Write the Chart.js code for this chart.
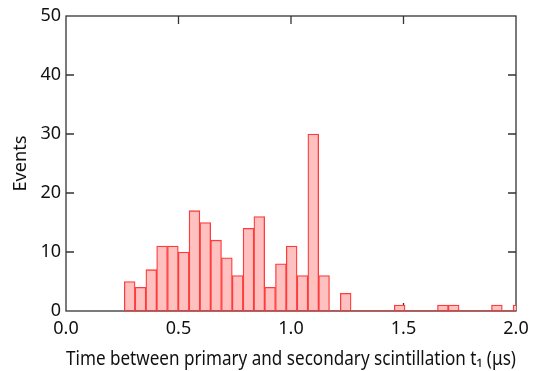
<!DOCTYPE html>
<html lang="en">
<head>
    <meta charset="UTF-8">
    <title>t1 histogram</title>
    <script src="https://cdn.jsdelivr.net/npm/chart.js"></script>
    <style>
        html, body { margin: 0; padding: 0; background: #fff; }
        .chart-box { width: 538px; height: 371px; position: relative; }
    </style>
</head>
<body>
    <div class="chart-box">
        <canvas id="histChart"></canvas>
    </div>

    <script>
        // bin centres (µs), bins are ~0.048 µs wide
        const binCenters = [0.283, 0.331, 0.379, 0.427, 0.475, 0.523, 0.571, 0.619, 0.667, 0.715,
                            0.763, 0.811, 0.859, 0.907, 0.955, 1.003, 1.051, 1.099, 1.147, 1.195,
                            1.243, 1.291, 1.339, 1.387, 1.435, 1.483, 1.531, 1.579, 1.627, 1.675,
                            1.723, 1.771, 1.819, 1.867, 1.915, 1.963, 2.011];
        const events = [5, 4, 7, 11, 11, 10, 17, 15, 12, 9,
                        6, 14, 16, 4, 8, 11, 6, 30, 6, 0,
                        3, 0, 0, 0, 0, 1, 0, 0, 0, 1,
                        1, 0, 0, 0, 1, 0, 1];
        const baseLine = [0.259, 2.0];   // red baseline under the histogram
        const xTicks = [0.0, 0.5, 1.0, 1.5, 2.0];
        const yTicks = [0, 10, 20, 30, 40, 50];

        const font = "'Noto Sans', 'Open Sans', sans-serif";

        // frame box with inward ticks, like the original plot
        const framePlugin = {
            id: 'frame',
            beforeDatasetsDraw(chart) {
                const { ctx, chartArea: a, scales } = chart;
                ctx.save();
                ctx.strokeStyle = '#333';
                ctx.lineWidth = 1.3;
                ctx.strokeRect(a.left, a.top, a.right - a.left, a.bottom - a.top);
                ctx.beginPath();
                yTicks.slice(1, -1).forEach(v => {
                    const y = scales.y.getPixelForValue(v);
                    ctx.moveTo(a.left, y); ctx.lineTo(a.left + 8, y);
                    ctx.moveTo(a.right, y); ctx.lineTo(a.right - 8, y);
                });
                xTicks.slice(1, -1).forEach(v => {
                    const x = scales.x.getPixelForValue(v);
                    ctx.moveTo(x, a.top); ctx.lineTo(x, a.top + 8);
                    ctx.moveTo(x, a.bottom); ctx.lineTo(x, a.bottom - 8);
                });
                ctx.stroke();
                ctx.restore();
            }
        };

        new Chart(document.getElementById('histChart'), {
            type: 'bar',
            data: {
                datasets: [
                    {
                        type: 'line',
                        data: baseLine.map(x => ({ x: x, y: 0 })),
                        borderColor: '#ff3333',
                        borderWidth: 1.5,
                        pointRadius: 0
                    },
                    {
                        data: binCenters.map((x, i) => ({ x: x, y: events[i] })),
                        backgroundColor: '#ffc0c0',
                        borderColor: '#ff3b3b',
                        borderWidth: 1.3,
                        borderSkipped: false,
                        barPercentage: 1,
                        categoryPercentage: 1
                    }
                ]
            },
            options: {
                responsive: true,
                maintainAspectRatio: false,
                animation: false,
                layout: { padding: { left: 0, right: 22, top: 16, bottom: 0 } },
                plugins: {
                    legend: { display: false },
                    tooltip: { enabled: false }
                },
                scales: {
                    x: {
                        type: 'linear',
                        min: 0,
                        max: 2,
                        offset: false,
                        grid: { display: false, drawTicks: false, offset: false },
                        border: { display: false },
                        afterFit: s => { s.height = 60; },
                        afterBuildTicks: s => { s.ticks = xTicks.map(v => ({ value: v })); },
                        ticks: {
                            padding: 7,
                            color: '#111',
                            font: { family: font, size: 18 },
                            callback: v => v.toFixed(1)
                        },
                        title: {
                            display: true,
                            text: 'Time between primary and secondary scintillation t\u2081 (\u03bcs)',
                            color: '#111',
                            font: { family: font, size: 19.2 },
                            padding: { top: 1, bottom: 0 }
                        }
                    },
                    y: {
                        min: 0,
                        max: 50,
                        grid: { display: false, drawTicks: false },
                        border: { display: false },
                        afterFit: s => { s.width = 66; },
                        afterBuildTicks: s => { s.ticks = yTicks.map(v => ({ value: v })); },
                        ticks: {
                            padding: 5,
                            color: '#111',
                            font: { family: font, size: 18 }
                        },
                        title: {
                            display: true,
                            text: 'Events',
                            color: '#111',
                            font: { family: font, size: 18.2 },
                            padding: { top: 10, bottom: 0 }
                        }
                    }
                }
            },
            plugins: [framePlugin]
        });
    </script>
</body>
</html>
